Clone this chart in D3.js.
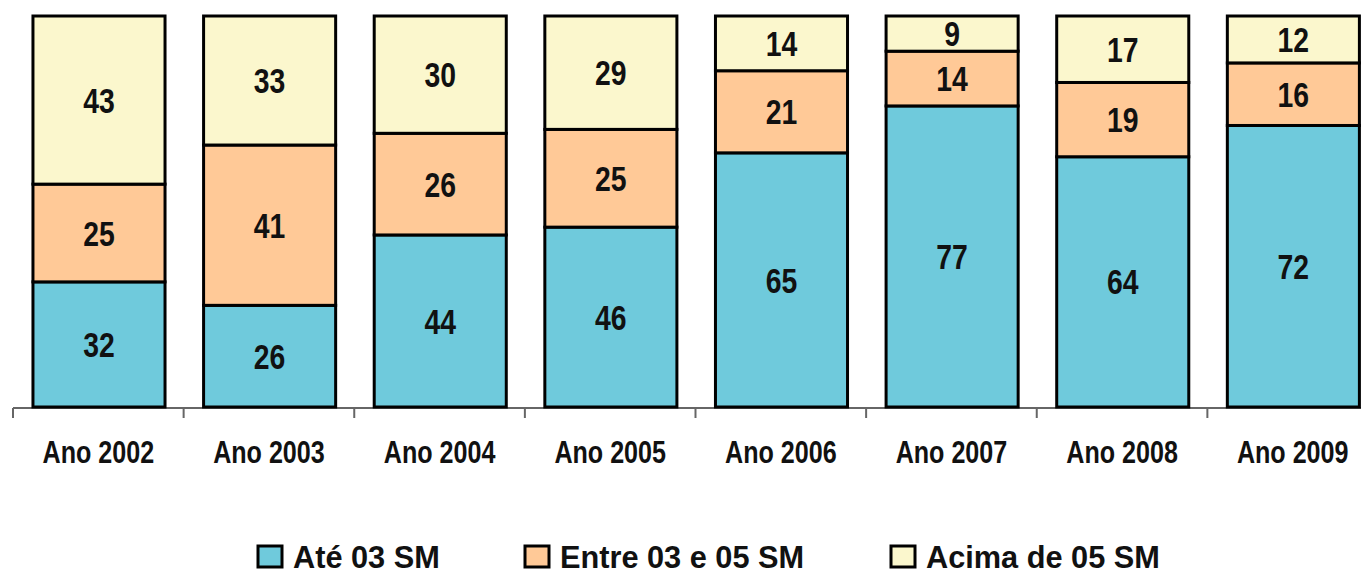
<!DOCTYPE html>
<html>
<head>
<meta charset="utf-8">
<script src="https://cdn.jsdelivr.net/npm/d3@7"></script>
<style>
  body { margin: 0; background: #fff; }
  text { font-family: "Liberation Sans", Arial, sans-serif; font-weight: bold; }
</style>
</head>
<body>
<div class="graph"></div>
<script>
// data
const years = ["Ano 2002", "Ano 2003", "Ano 2004", "Ano 2005", "Ano 2006", "Ano 2007", "Ano 2008", "Ano 2009"];
const series = ["Até 03 SM", "Entre 03 e 05 SM", "Acima de 05 SM"];
const ate03 = [32, 26, 44, 46, 65, 77, 64, 72];
const entre = [25, 41, 26, 25, 21, 14, 19, 16];
const acima = [43, 33, 30, 29, 14, 9, 17, 12];
const colors = ["#6fcadc", "#ffc997", "#fbf7cd"];

const SIZE = {X: 1361, Y: 574};
const MARGIN = {TOP: 16, BOTTOM: 167, LEFT: 13};
// the axis runs past the right edge of the picture
const DIM = {WIDTH: 1365, HEIGHT: SIZE.Y - MARGIN.TOP - MARGIN.BOTTOM};
const CONDENSE = 0.81; // narrow bold look

const svg = d3.select(".graph").append("svg")
    .attr("width", SIZE.X)
    .attr("height", SIZE.Y);

const graph = svg.append("g")
    .attr("transform", `translate(${MARGIN.LEFT}, ${MARGIN.TOP})`);

const table = years.map((y, i) => ({year: y, "Até 03 SM": ate03[i], "Entre 03 e 05 SM": entre[i], "Acima de 05 SM": acima[i]}));
const stacked = d3.stack().keys(series)(table);

// one band per year for ticks/labels, bars sit inside with a gap
const xTicks = d3.scaleBand().domain(years).range([0, DIM.WIDTH]);
const barOff = xTicks.bandwidth() * 0.117;
const barW = xTicks.bandwidth() * 0.774;
const y = d3.scaleLinear().domain([0, 100]).range([DIM.HEIGHT, 0]);

// x axis
const xAxis = graph.append("g")
    .attr("transform", `translate(0, ${DIM.HEIGHT + 1})`);
xAxis.append("line")
    .attr("x1", 0).attr("x2", DIM.WIDTH)
    .attr("stroke", "#666").attr("stroke-width", 2);
xAxis.selectAll(".tick").data(d3.range(years.length + 1)).enter().append("line")
    .attr("x1", i => i * xTicks.step())
    .attr("x2", i => i * xTicks.step())
    .attr("y1", 0).attr("y2", 10)
    .attr("stroke", "#666").attr("stroke-width", 2);
xAxis.selectAll(".lbl").data(years).enter().append("g")
    .attr("transform", d => `translate(${xTicks(d) + xTicks.bandwidth() / 2}, 55) scale(${CONDENSE}, 1)`)
    .append("text")
    .attr("text-anchor", "middle")
    .attr("font-size", 31)
    .attr("fill", "#111")
    .text(d => d);

// bars
const layers = graph.selectAll(".layer").data(stacked).enter().append("g")
    .attr("fill", (d, i) => colors[i]);

layers.selectAll("rect").data(d => d).enter().append("rect")
    .attr("x", d => xTicks(d.data.year) + barOff)
    .attr("y", d => y(d[1]))
    .attr("width", barW)
    .attr("height", d => y(d[0]) - y(d[1]))
    .attr("stroke", "#000")
    .attr("stroke-width", 3);

// value labels
layers.selectAll("g").data(d => d).enter().append("g")
    .attr("transform", d => `translate(${xTicks(d.data.year) + barOff + barW / 2}, ${(y(d[0]) + y(d[1])) / 2}) scale(${CONDENSE}, 1)`)
    .append("text")
    .attr("dy", "0.36em")
    .attr("text-anchor", "middle")
    .attr("fill", "#111")
    .attr("font-size", 35)
    .text(d => d[1] - d[0]);

// legend
const legendX = [258, 525, 891];
const legend = svg.selectAll(".legend").data(series).enter().append("g")
    .attr("transform", (d, i) => `translate(${legendX[i]}, 546)`);
legend.append("rect")
    .attr("width", 24).attr("height", 21)
    .attr("fill", (d, i) => colors[i])
    .attr("stroke", "#000").attr("stroke-width", 3);
legend.append("g")
    .attr("transform", "translate(35, 22) scale(0.96, 1)")
    .append("text")
    .attr("font-size", 32)
    .attr("fill", "#111")
    .text(d => d);
</script>
</body>
</html>
